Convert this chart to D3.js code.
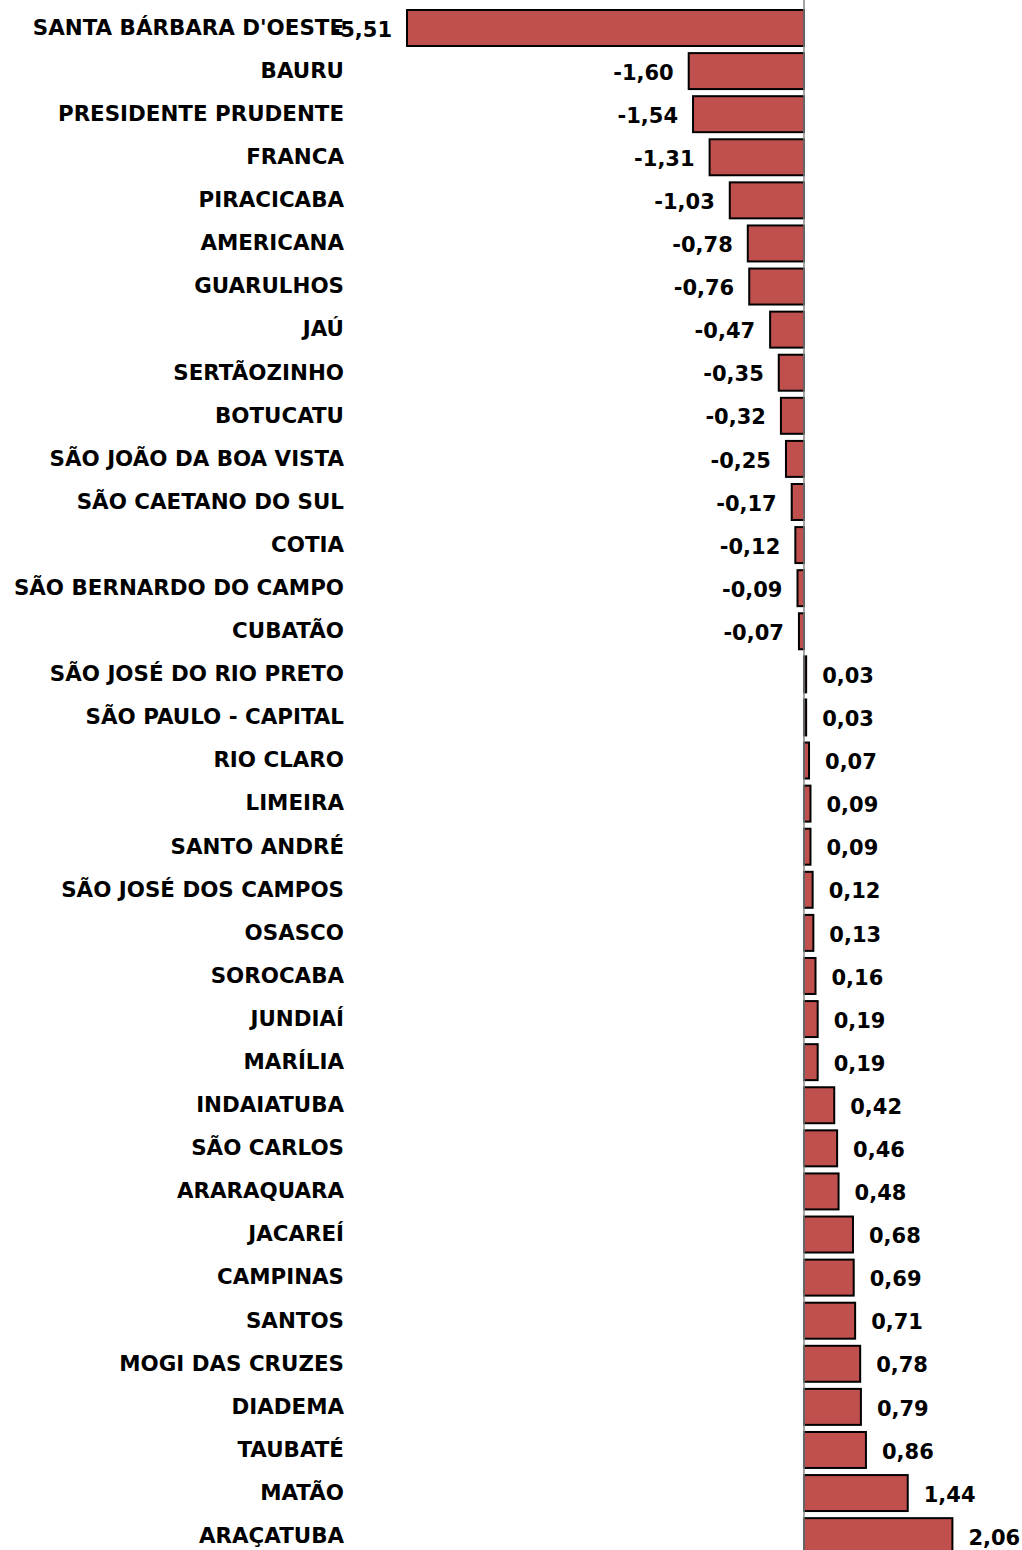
<!DOCTYPE html>
<html lang="pt">
<head>
<meta charset="UTF-8">
<title>Variação por município</title>
<script src="https://cdn.jsdelivr.net/npm/d3@7"></script>
<style>
  body { margin: 0; background: #fff; overflow: hidden; }
  .cat, .val { font-family: "DejaVu Sans", sans-serif; font-weight: 700; font-size: 21px; fill: #000; }
  .cat { font-size: 21.4px; }
</style>
</head>
<body>
<svg id="chart" width="1022" height="1550"></svg>
<script>
  // municipios e variacao
  var cities = ["SANTA BÁRBARA D'OESTE", "BAURU", "PRESIDENTE PRUDENTE", "FRANCA", "PIRACICABA",
    "AMERICANA", "GUARULHOS", "JAÚ", "SERTÃOZINHO", "BOTUCATU", "SÃO JOÃO DA BOA VISTA",
    "SÃO CAETANO DO SUL", "COTIA", "SÃO BERNARDO DO CAMPO", "CUBATÃO", "SÃO JOSÉ DO RIO PRETO",
    "SÃO PAULO - CAPITAL", "RIO CLARO", "LIMEIRA", "SANTO ANDRÉ", "SÃO JOSÉ DOS CAMPOS",
    "OSASCO", "SOROCABA", "JUNDIAÍ", "MARÍLIA", "INDAIATUBA", "SÃO CARLOS", "ARARAQUARA",
    "JACAREÍ", "CAMPINAS", "SANTOS", "MOGI DAS CRUZES", "DIADEMA", "TAUBATÉ", "MATÃO", "ARAÇATUBA"];
  var values = [-5.51, -1.60, -1.54, -1.31, -1.03, -0.78, -0.76, -0.47, -0.35, -0.32, -0.25,
    -0.17, -0.12, -0.09, -0.07, 0.03, 0.03, 0.07, 0.09, 0.09, 0.12, 0.13, 0.16, 0.19, 0.19,
    0.42, 0.46, 0.48, 0.68, 0.69, 0.71, 0.78, 0.79, 0.86, 1.44, 2.06];

  var data = cities.map(function (c, i) { return { name: c, v: values[i] }; });

  var svg = d3.select("#chart");

  var x = d3.scaleLinear().domain([-5.51, 2.06]).range([407, 952.4]);
  var step = 43.09;
  var y = d3.scaleBand()
    .domain(cities)
    .range([28 - step / 2, 28 - step / 2 + step * cities.length])
    .paddingInner(0.165)
    .paddingOuter(0.0825);

  var fmt = function (v) { return d3.format(".2f")(v).replace(".", ",").replace("−", "-"); };

  // barras
  svg.append("g").selectAll("rect")
    .data(data)
    .enter().append("rect")
    .attr("x", function (d) { return x(Math.min(0, d.v)); })
    .attr("y", function (d) { return y(d.name); })
    .attr("width", function (d) { return Math.abs(x(d.v) - x(0)); })
    .attr("height", y.bandwidth())
    .attr("fill", "#C0504D")
    .attr("stroke", "#000")
    .attr("stroke-width", 2);

  // eixo vertical no zero
  svg.append("line")
    .attr("x1", x(0)).attr("x2", x(0))
    .attr("y1", 0).attr("y2", 1550)
    .attr("stroke", "#868686")
    .attr("stroke-width", 1.5);

  // nomes
  svg.append("g").selectAll("text")
    .data(data)
    .enter().append("text")
    .attr("class", "cat")
    .attr("x", 344)
    .attr("y", function (d) { return y(d.name) + y.bandwidth() / 2 - 1; })
    .attr("dy", "0.365em")
    .attr("text-anchor", "end")
    .text(function (d) { return d.name; });

  // valores
  svg.append("g").selectAll("text")
    .data(data)
    .enter().append("text")
    .attr("class", "val")
    .attr("x", function (d) { return d.v < 0 ? x(d.v) - 15 : x(d.v) + 16; })
    .attr("y", function (d) { return y(d.name) + y.bandwidth() / 2 + 1; })
    .attr("dy", "0.365em")
    .attr("text-anchor", function (d) { return d.v < 0 ? "end" : "start"; })
    .text(function (d) { return fmt(d.v); });
</script>
</body>
</html>
